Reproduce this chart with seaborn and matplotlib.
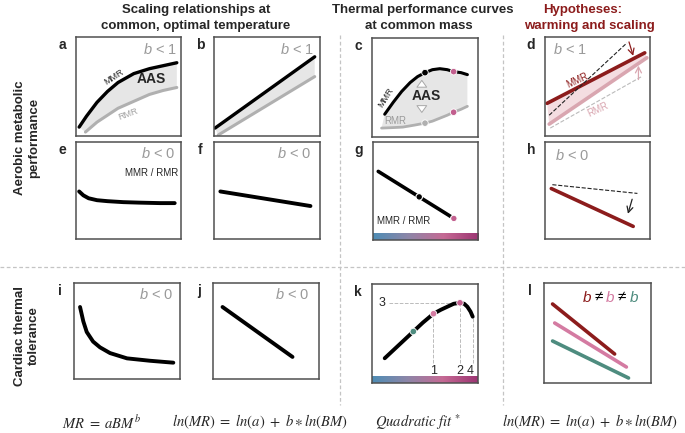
import numpy as np
import matplotlib
matplotlib.use("Agg")
import matplotlib.pyplot as plt
import seaborn as sns
from matplotlib.colors import LinearSegmentedColormap

# every panel is a conceptual sketch, axes run 0..1
# a: MR vs body mass
a_mass_mmr = [0.03, 0.1, 0.2, 0.3, 0.4, 0.55, 0.7, 0.83, 0.96]
a_mmr = [0.09, 0.2, 0.34, 0.45, 0.54, 0.63, 0.68, 0.71, 0.74]
a_mass_rmr = [0.09, 0.2, 0.3, 0.4, 0.55, 0.7, 0.83, 0.96]
a_rmr = [0.04, 0.14, 0.21, 0.28, 0.35, 0.42, 0.46, 0.49]
# b: ln MR vs ln body mass
b_mass_mmr = [0.01, 0.95]
b_mmr = [0.08, 0.8]
b_mass_rmr = [0.04, 0.95]
b_rmr = [0.01, 0.6]
# c: thermal performance curves
c_temp_mmr = [0.12, 0.2, 0.28, 0.36, 0.43, 0.5, 0.57, 0.64, 0.71, 0.77, 0.84, 0.9]
c_mmr = [0.23, 0.35, 0.46, 0.55, 0.61, 0.65, 0.68, 0.69, 0.68, 0.66, 0.65, 0.63]
c_temp_rmr = [0.09, 0.2, 0.29, 0.4, 0.5, 0.57, 0.64, 0.71, 0.77, 0.84, 0.9]
c_rmr = [0.09, 0.095, 0.1, 0.12, 0.14, 0.16, 0.19, 0.22, 0.25, 0.28, 0.31]
c_dot_temp = [0.5, 0.77]
c_dot_mmr = [0.65, 0.66]
c_dot_rmr = [0.14, 0.25]
# d: hypotheses, warming and scaling
d_mass_mmr = [0.02, 0.95]
d_mmr = [0.33, 0.84]
d_mass_rmr = [0.04, 0.97]
d_rmr = [0.12, 0.79]
d_mass_ref_mmr = [0.04, 0.78]
d_ref_mmr = [0.21, 0.94]
d_mass_ref_rmr = [0.05, 0.92]
d_ref_rmr = [0.08, 0.6]
# e: FAS vs body mass
e_mass = [0.03, 0.07, 0.12, 0.2, 0.3, 0.45, 0.6, 0.8, 0.94]
e_fas = [0.49, 0.45, 0.42, 0.40, 0.39, 0.38, 0.375, 0.37, 0.37]
# f: ln FAS
f_mass = [0.06, 0.91]
f_fas = [0.49, 0.34]
# g: FAS vs temperature
g_temp = [0.05, 0.77]
g_fas = [0.7, 0.22]
g_dot_temp = [0.44, 0.77]
g_dot_fas = [0.44, 0.22]
# h: ln FAS hypothesis
h_mass = [0.06, 0.84]
h_fas = [0.52, 0.13]
h_mass_ref = [0.07, 0.88]
h_fas_ref = [0.56, 0.47]
# i: fHmax vs body mass
i_mass = [0.057, 0.088, 0.12, 0.18, 0.245, 0.34, 0.5, 0.717, 0.937]
i_fh = [0.75, 0.6, 0.49, 0.39, 0.33, 0.27, 0.215, 0.19, 0.17]
# j: ln fHmax
j_mass = [0.09, 0.75]
j_fh = [0.75, 0.23]
# k: fHmax vs temperature (quadratic fit)
k_temp = [0.12, 0.2, 0.3, 0.39, 0.48, 0.58, 0.65, 0.71, 0.77, 0.83, 0.87, 0.9, 0.93, 0.95]
k_fh = [0.25, 0.33, 0.43, 0.52, 0.61, 0.7, 0.74, 0.77, 0.8, 0.81, 0.8, 0.77, 0.72, 0.67]
k_dot_temp = [0.39, 0.58, 0.83]
k_dot_fh = [0.52, 0.7, 0.81]
k_guides = [0.58, 0.83, 0.95]
k_guide_labels = ["1", "2", "4"]
# l: ln fHmax at three temperatures
l_mass = [[0.08, 0.66], [0.1, 0.77], [0.08, 0.79]]
l_fh = [[0.79, 0.29], [0.6, 0.16], [0.42, 0.05]]

DARK_RED = "#8c1c1c"
PINK = "#d47ba2"
PINK_DOT = "#c25f8e"
PINK_LIGHT = "#d9a6b0"
TEAL = "#4e8c7f"
GREY = "#9a9a9a"
FILL = "#e6e6e6"
l_colors = [DARK_RED, PINK, TEAL]

sns.set_theme(style="white")
plt.rcParams["font.family"] = ["Liberation Sans", "DejaVu Sans"]
plt.rcParams["mathtext.fontset"] = "custom"
plt.rcParams["mathtext.rm"] = "Liberation Sans"
plt.rcParams["mathtext.it"] = "Liberation Sans:italic"
plt.rcParams["mathtext.bf"] = "Liberation Sans:bold"

W, H = 685, 433
fig = plt.figure(figsize=(W / 100, H / 100), dpi=100)
temp_cmap = LinearSegmentedColormap.from_list(
    "temp", ["#4e8db5", "#8d86a8", "#c56a94", "#9c3472"])


def ftext(px, py, s, **kw):
    fig.text(px / W, 1 - py / H, s, **kw)


def panel(box, letter):
    x0, y0, x1, y1 = box
    ax = fig.add_axes([x0 / W, 1 - y1 / H, (x1 - x0) / W, (y1 - y0) / H])
    ax.set_xticks([])
    ax.set_yticks([])
    for s in ax.spines.values():
        s.set_visible(True)
        s.set_color("#505050")
        s.set_linewidth(1.1)
    ftext(x0 - 14, y0 + 8, letter, fontweight="bold", fontsize=10,
          ha="center", va="center")
    return ax


def line(ax, x, y, color="black", lw=2.6, **kw):
    sns.lineplot(x=x, y=y, ax=ax, color=color, lw=lw, sort=False,
                 estimator=None, solid_capstyle="round", **kw)


def arrow(ax, start, end, color):
    ax.annotate("", xy=end, xytext=start,
                arrowprops=dict(arrowstyle="->,head_length=0.35,head_width=0.18",
                                color=color, lw=0.9, shrinkA=0, shrinkB=0))


def finish(ax, ylab=None, xlab=None):
    ax.set_xlim(0, 1)
    ax.set_ylim(0, 1)
    ax.set_ylabel(ylab if ylab else "", fontsize=9.5, labelpad=5)
    ax.set_xlabel(xlab if xlab else "", fontsize=9.5, labelpad=3)


def strip(ax):
    ax.imshow(np.linspace(0, 1, 256)[None, :], extent=(0, 1, 0, 0.065),
              aspect="auto", cmap=temp_cmap, zorder=1)


def bnote(ax, x, y, s):
    ax.text(x, y, s, color=GREY, fontsize=10.5, ha="center", va="center")


# ---- a ----
ax = panel((76, 37, 181, 136), "a")
ax.fill(np.r_[a_mass_mmr, a_mass_rmr[::-1]], np.r_[a_mmr, a_rmr[::-1]],
        color=FILL, lw=0, zorder=0)
line(ax, a_mass_rmr, a_rmr, color="#b0b0b0", lw=2.2)
line(ax, a_mass_mmr, a_mmr, lw=2.4)
ax.text(0.36, 0.6, "MMR", fontsize=6.5, rotation=33, ha="center", va="center")
ax.text(0.5, 0.22, "RMR", fontsize=6.5, rotation=20, color="#a0a0a0", ha="center", va="center")
ax.text(0.72, 0.58, "AAS", fontsize=10, fontweight="bold", ha="center", va="center")
bnote(ax, 0.8, 0.87, "$b$ < 1")
finish(ax, "MR")

# ---- b ----
ax = panel((214, 37, 320, 136), "b")
ax.fill(np.r_[b_mass_mmr, b_mass_rmr[::-1]], np.r_[b_mmr, b_rmr[::-1]],
        color=FILL, lw=0, zorder=0)
line(ax, b_mass_rmr, b_rmr, color="#b0b0b0", lw=2.2)
line(ax, b_mass_mmr, b_mmr, lw=2.4)
bnote(ax, 0.78, 0.87, "$b$ < 1")
finish(ax, "$ln$ MR")

# ---- c ----
ax = panel((372, 38, 478, 137), "c")
ax.fill(np.r_[c_temp_mmr, c_temp_rmr[::-1]], np.r_[c_mmr, c_rmr[::-1]],
        color=FILL, lw=0, zorder=0)
line(ax, c_temp_rmr, c_rmr, color="#b0b0b0", lw=2.0)
line(ax, c_temp_mmr, c_mmr, lw=2.2)
sns.scatterplot(x=c_dot_temp, y=c_dot_mmr, ax=ax, hue=[0, 1],
                palette=["black", PINK_DOT], s=22, edgecolor="white",
                linewidth=0.6, legend=False, zorder=5)
sns.scatterplot(x=c_dot_temp, y=c_dot_rmr, ax=ax, hue=[0, 1],
                palette=["#b0b0b0", PINK_DOT], s=22, edgecolor="white",
                linewidth=0.6, legend=False, zorder=5)
arrow_kw = dict(arrowstyle="simple,head_length=0.7,head_width=1.0,tail_width=0.45",
                fc="white", ec="#a8a8a8", lw=0.7, mutation_scale=7)
ax.annotate("", xy=(0.47, 0.6), xytext=(0.47, 0.5), arrowprops=arrow_kw)
ax.annotate("", xy=(0.47, 0.22), xytext=(0.47, 0.32), arrowprops=arrow_kw)
ax.text(0.51, 0.41, "AAS", fontsize=10, fontweight="bold", ha="center", va="center")
ax.text(0.13, 0.4, "MMR", fontsize=6.5, rotation=58, ha="center", va="center")
ax.text(0.22, 0.16, "RMR", fontsize=7, color="#9a9a9a", ha="center", va="center")
finish(ax, "MR")

# ---- d ----
ax = panel((545, 37, 650, 136), "d")
ax.fill(np.r_[d_mass_mmr, d_mass_rmr[::-1]], np.r_[d_mmr, d_rmr[::-1]],
        color="#f4dde1", lw=0, zorder=0)
line(ax, d_mass_ref_rmr, d_ref_rmr, color="#bbbbbb", lw=0.8, linestyle="--")
line(ax, d_mass_rmr, d_rmr, color=PINK_LIGHT, lw=2.6)
line(ax, d_mass_mmr, d_mmr, color=DARK_RED, lw=2.6)
line(ax, d_mass_ref_mmr, d_ref_mmr, color="#222222", lw=0.8, linestyle="--")
arrow(ax, (0.8, 0.95), (0.84, 0.81), DARK_RED)
arrow(ax, (0.89, 0.57), (0.89, 0.71), PINK_LIGHT)
ax.text(0.31, 0.56, "MMR", fontsize=7, rotation=25, color=DARK_RED, ha="center", va="center")
ax.text(0.5, 0.27, "RMR", fontsize=7, rotation=25, color=PINK_LIGHT, ha="center", va="center")
bnote(ax, 0.24, 0.87, "$b$ < 1")
finish(ax, "$ln$ MR")

# ---- e ----
ax = panel((76, 142, 181, 239), "e")
line(ax, e_mass, e_fas, lw=2.8)
bnote(ax, 0.78, 0.88, "$b$ < 0")
ax.text(0.72, 0.68, "MMR / RMR", fontsize=7, ha="center", va="center")
finish(ax, "FAS", "Body mass")

# ---- f ----
ax = panel((214, 142, 320, 239), "f")
line(ax, f_mass, f_fas, lw=2.8)
bnote(ax, 0.76, 0.88, "$b$ < 0")
finish(ax, "$ln$ FAS", "$ln$ Body mass")

# ---- g ----
ax = panel((373, 142, 478, 240), "g")
line(ax, g_temp, g_fas, lw=2.6)
sns.scatterplot(x=g_dot_temp, y=g_dot_fas, ax=ax, hue=[0, 1],
                palette=["black", PINK_DOT], s=22, edgecolor="white",
                linewidth=0.8, legend=False, zorder=5)
strip(ax)
ax.text(0.29, 0.19, "MMR / RMR", fontsize=7, ha="center", va="center")
finish(ax, "FAS", "Temperature ºC")

# ---- h ----
ax = panel((545, 142, 650, 239), "h")
line(ax, h_mass_ref, h_fas_ref, color="#222222", lw=0.8, linestyle="--")
line(ax, h_mass, h_fas, color=DARK_RED, lw=2.6)
arrow(ax, (0.83, 0.41), (0.79, 0.26), "#222222")
bnote(ax, 0.26, 0.86, "$b$ < 0")
finish(ax, "$ln$ FAS", "$ln$ Body mass")

# ---- i ----
ax = panel((74, 283, 180, 379), "i")
line(ax, i_mass, i_fh, lw=2.8)
bnote(ax, 0.78, 0.88, "$b$ < 0")
finish(ax, r"$f_{\mathrm{Hmax}}$", "Body mass")

# ---- j ----
ax = panel((213, 283, 319, 379), "j")
line(ax, j_mass, j_fh, lw=2.8)
bnote(ax, 0.75, 0.88, "$b$ < 0")
finish(ax, r"$ln\ \ f_{\mathrm{Hmax}}$", "$ln$ Body mass")

# ---- k ----
ax = panel((372, 284, 478, 383), "k")
for gx in k_guides:
    gy = np.interp(gx, k_temp, k_fh)
    ax.plot([gx, gx], [0.2, gy], color="#bbbbbb", lw=0.7, ls="--", zorder=1)
ax.plot([0.16, k_guides[1]], [max(k_fh)] * 2, color="#bbbbbb", lw=0.7, ls="--", zorder=1)
line(ax, k_temp, k_fh, lw=2.8)
sns.scatterplot(x=k_dot_temp, y=k_dot_fh, ax=ax, hue=[0, 1, 2],
                palette=[TEAL, PINK, PINK_DOT], s=22, edgecolor="white",
                linewidth=0.6, legend=False, zorder=5)
for gx, lab in zip(k_guides, k_guide_labels):
    ax.text(gx - (0.02 if lab == "4" else 0), 0.12, lab, fontsize=9,
            ha="center", va="center")
ax.text(0.09, max(k_fh), "3", fontsize=9, ha="center", va="center")
strip(ax)
finish(ax, r"$f_{\mathrm{Hmax}}$", "Temperature ºC")

# ---- l ----
ax = panel((544, 283, 651, 383), "l")
for xs, ys, col in zip(l_mass, l_fh, l_colors):
    line(ax, xs, ys, color=col, lw=2.6)
for xp, s, col in zip([0.4, 0.51, 0.62, 0.73, 0.84],
                      ["$b$", "≠", "$b$", "≠", "$b$"],
                      [DARK_RED, "black", PINK, "black", TEAL]):
    ax.text(xp, 0.86, s, color=col, fontsize=11, ha="center", va="center")
finish(ax, r"$ln\ \ f_{\mathrm{Hmax}}$", "$ln$ Body mass")

# ---- headers, row labels, separators ----
hdr = dict(fontweight="bold", fontsize=9.5, ha="center", va="center")
ftext(196, 10, "Scaling relationships at", **hdr)
ftext(196, 26, "common, optimal temperature", **hdr)
ftext(423, 10, "Thermal performance curves", **hdr)
ftext(419, 26, "at common mass", **hdr)
ftext(583, 10, "Hypotheses:", color=DARK_RED, **hdr)
ftext(589, 26, "warming and scaling", color=DARK_RED, **hdr)

row = dict(fontweight="bold", fontsize=9.5, ha="center", va="center",
           rotation=90, multialignment="center", linespacing=1.3)
ftext(27, 138, "Aerobic metabolic\nperformance", **row)
ftext(27, 336, "Cardiac thermal\ntolerance", **row)

sep = dict(color="#c4c4c4", lw=0.9, ls=(0, (3, 2)), transform=fig.transFigure)
fig.add_artist(plt.Line2D([0, 1], [1 - 267 / H] * 2, **sep))
fig.add_artist(plt.Line2D([340 / W] * 2, [1 - 35 / H, 1 - 405 / H], **sep))
fig.add_artist(plt.Line2D([503 / W] * 2, [1 - 35 / H, 1 - 405 / H], **sep))

eq = dict(fontsize=10.5, ha="center", va="center", math_fontfamily="stix")
ftext(102, 422, r"$MR\ =\ aBM^{b}$", **eq)
ftext(260, 422, r"$ln(MR)\ =\ ln(a)\ +\ b \ast ln(BM)$", **eq)
ftext(418, 422, r"$Quadratic\ fit\ ^{*}$", **eq)
ftext(590, 422, r"$ln(MR)\ =\ ln(a)\ +\ b \ast ln(BM)$", **eq)

fig.savefig("out.png", dpi=100)
